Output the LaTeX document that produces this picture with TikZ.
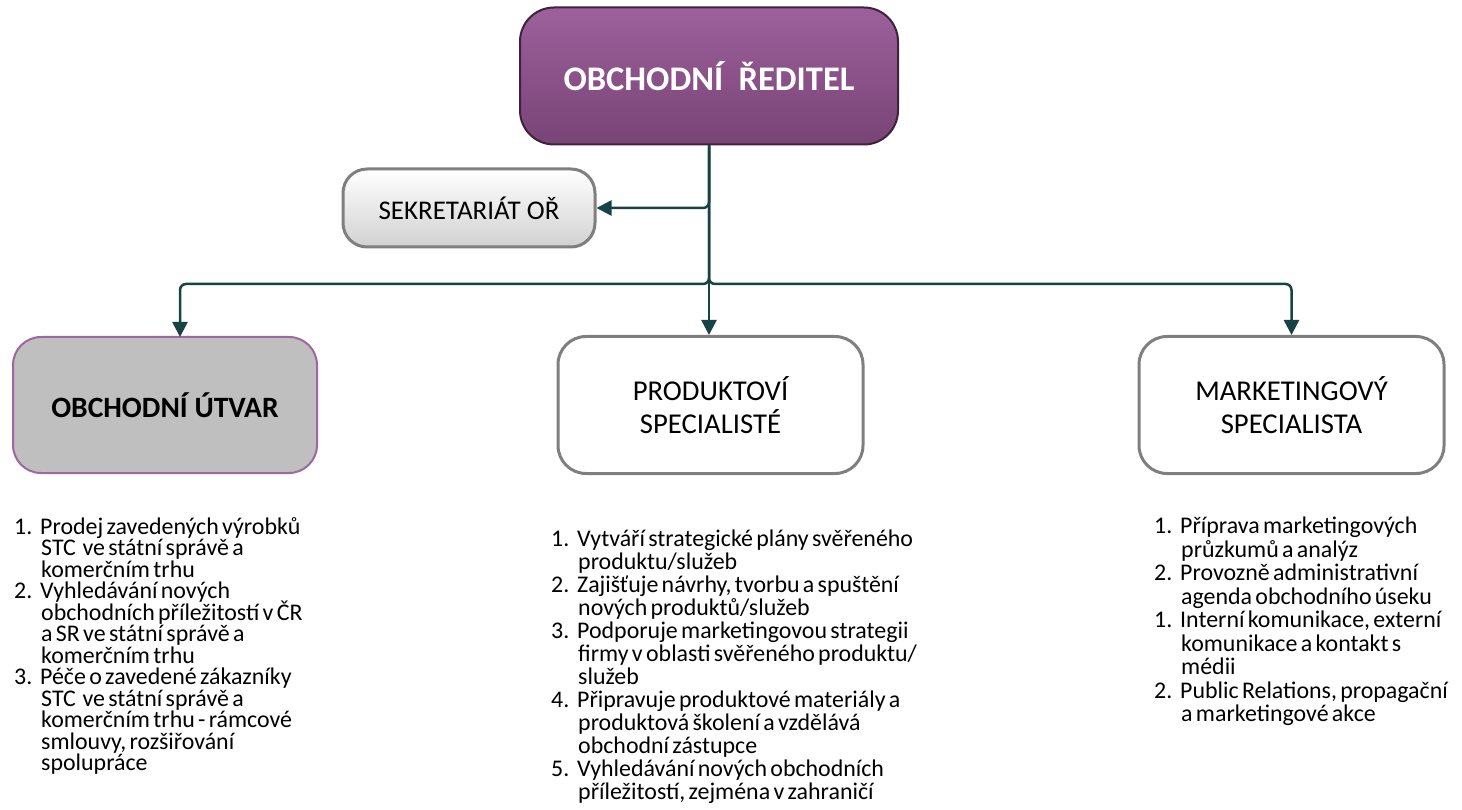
\documentclass[tikz,border=0pt]{standalone}
\usepackage{fontspec}
\setmainfont{Carlito}
\usetikzlibrary{arrows.meta,calc}
\definecolor{conncol}{RGB}{24,67,69}
\definecolor{dirtop}{RGB}{157,96,155}
\definecolor{dirbot}{RGB}{120,68,118}
\definecolor{dirborder}{RGB}{62,34,62}
\definecolor{boxgrey}{RGB}{127,127,127}
\definecolor{utvfill}{RGB}{191,191,191}
\definecolor{utvborder}{RGB}{160,102,160}
\newcommand{\litem}[2]{\noindent\hangindent=27pt\hangafter=1\makebox[26pt][l]{#1}#2\par}
\tikzset{
  conn/.style={draw=conncol, line width=2.5pt, rounded corners=6pt, -{Triangle[length=15pt,width=15pt]}},
  dirbox/.style={rounded corners=34pt, draw=dirborder, line width=2pt, top color=dirtop, bottom color=dirbot,
     minimum width=378pt, minimum height=137pt, text=white, font=\fontsize{34.5}{40}\selectfont\bfseries},
  sekbox/.style={rounded corners=24pt, draw=boxgrey, line width=3pt, top color=white, bottom color=black!18,
     minimum width=252pt, minimum height=78pt, font=\fontsize{27}{31}\selectfont},
  utvbox/.style={rounded corners=28pt, draw=utvborder, line width=2pt, fill=utvfill,
     minimum width=304pt, minimum height=136pt, font=\fontsize{29.5}{35}\selectfont\bfseries},
  unitbox/.style={rounded corners=28pt, draw=boxgrey, line width=3pt, fill=white,
     minimum width=305pt, minimum height=137pt, align=center, font=\fontsize{28.7}{33}\selectfont},
  listnode/.style={anchor=north west, inner sep=0pt, text width=#1, align=left},
}
\begin{document}
\begin{tikzpicture}[x=1pt,y=-1pt]
\useasboundingbox (0,0) rectangle (1462,810);

\node[dirbox] (dir) at (709,76) {OBCHODNÍ\hspace{0.45em}ŘEDITEL};
\node[sekbox] (sek) at (469,208) {SEKRETARIÁT OŘ};
\node[utvbox] (utv) at (165,405) {OBCHODNÍ ÚTVAR};
\node[unitbox] (prod) at (710.5,405) {PRODUKTOVÍ\\SPECIALISTÉ};
\node[unitbox] (mkt) at (1291.5,405) {MARKETINGOVÝ\\SPECIALISTA};

\coordinate (bus) at (709,284);
\coordinate (utvin) at (180,337);

\draw[conn] (dir.south) |- (sek.east);
\draw[conn] (dir.south) |- (utvin |- bus) -- (utvin);
\draw[conn] (dir.south) |- (mkt.north |- bus) -- (mkt.north);
\draw[conn] (dir.south) -- (dir.south |- prod.north);

\node[listnode=360pt] (l1) at (14,517) {\fontsize{23.9}{21.5}\selectfont\lineskiplimit=-100pt
\litem{1.}{Prodej zavedených výrobků\newline STC\ \ ve státní správě a\newline komerčním trhu}
\litem{2.}{Vyhledávání nových\newline obchodních příležitostí v ČR\newline a SR ve státní správě a\newline komerčním trhu}
\litem{3.}{Péče o zavedené zákazníky\newline STC\ \ ve státní správě a\newline komerčním trhu - rámcové\newline smlouvy, rozšiřování\newline spolupráce}};

\node[listnode=440pt] (l2) at (551,530) {\fontsize{23.9}{23}\selectfont\lineskiplimit=-100pt
\litem{1.}{Vytváří strategické plány svěřeného\newline produktu/služeb}
\litem{2.}{Zajišťuje návrhy, tvorbu a spuštění\newline nových produktů/služeb}
\litem{3.}{Podporuje marketingovou strategii\newline firmy v oblasti svěřeného produktu/\newline služeb}
\litem{4.}{Připravuje produktové materiály a\newline produktová školení a vzdělává\newline obchodní zástupce}
\litem{5.}{Vyhledávání nových obchodních\newline příležitostí, zejména v zahraničí}};

\node[listnode=340pt] (l3) at (1154,517) {\fontsize{23.9}{23.5}\selectfont\lineskiplimit=-100pt
\litem{1.}{Příprava marketingových\newline průzkumů a analýz}
\litem{2.}{Provozně administrativní\newline agenda obchodního úseku}
\litem{1.}{Interní komunikace, externí\newline komunikace a kontakt s\newline médii}
\litem{2.}{Public Relations, propagační\newline a marketingové akce}};
\end{tikzpicture}
\end{document}
